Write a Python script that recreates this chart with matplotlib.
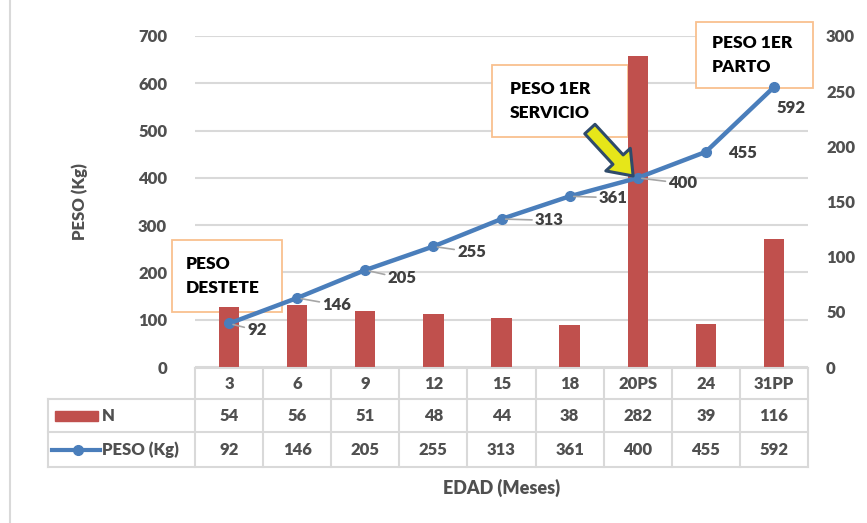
import matplotlib
matplotlib.use("Agg")
import matplotlib.pyplot as plt
import numpy as np
from matplotlib.patches import Rectangle, FancyArrowPatch, ArrowStyle
from matplotlib.lines import Line2D

plt.rcParams['font.family'] = ['Lato', 'DejaVu Sans']
plt.rcParams['font.weight'] = 'heavy'
plt.rcParams['axes.labelweight'] = 'heavy'

# data
edad = ["3", "6", "9", "12", "15", "18", "20PS", "24", "31PP"]
n_animales = [54, 56, 51, 48, 44, 38, 282, 39, 116]
peso = [92, 146, 205, 255, 313, 361, 400, 455, 592]
left_ticks = [0, 100, 200, 300, 400, 500, 600, 700]
right_ticks = [0, 50, 100, 150, 200, 250, 300]

W, H = 867, 523
BAR = '#c0504d'
LINE = '#4a7ebb'
GRID = '#d9d9d9'
TXT = '#505050'
FS = 12


def fx(x):
    return x / W


def fy(y):
    return 1 - y / H


fig = plt.figure(figsize=(W / 100, H / 100), dpi=100)
fig.add_artist(Line2D([fx(10), fx(10)], [0, 1], color=GRID, lw=1.5))

# main axes (line on top) and twin axes (bars)
ax = fig.add_axes([fx(195), fy(367), (808 - 195) / W, (367 - 36) / H])
ax2 = ax.twinx()
ax.set_zorder(ax2.get_zorder() + 1)
ax.patch.set_visible(False)

x = np.arange(len(edad))
ax2.bar(x, n_animales, width=0.3, color=BAR, zorder=2)
ax2.set_ylim(0, 300)
ax2.set_yticks(right_ticks)
ax.set_ylim(0, 700)
ax.set_yticks(left_ticks)
ax.set_xlim(-0.5, len(edad) - 0.5)
ax.set_xticks([])
ax2.set_xticks([])

# gridlines behind the bars
for v in left_ticks:
    ax2.axhline(v * 300 / 700, color=GRID, lw=1.5, zorder=0)

ax.plot(x, peso, color=LINE, lw=3.2, marker='o', ms=7, zorder=3)

for a in (ax, ax2):
    for s in a.spines.values():
        s.set_visible(False)
    a.tick_params(length=0, labelsize=FS, labelcolor=TXT, pad=20)
ax2.tick_params(pad=13)

# data labels
offsets = [(13, -5), (18, -5), (16, -6), (17, -4), (24, -1), (21, -1), (22, -4), (16, -1), (2, -15)]
leaders = [True, True, True, True, True, True, True, False, False]
for i, (v, off, ld) in enumerate(zip(peso, offsets, leaders)):
    ax.annotate(str(v), (x[i], v), xytext=off, textcoords='offset points',
                ha='left', va='center', fontsize=FS, color='#404040',
                arrowprops=dict(arrowstyle='-', color='#a6a6a6', lw=1.2,
                                shrinkA=0, shrinkB=3) if ld else None,
                zorder=4)

ax.set_ylabel("PESO (Kg)", fontsize=FS, color=TXT, labelpad=36)

# call-out boxes (above the grid, below bars and line)
boxes = [(172, 240, 282, 312, "PESO\nDESTETE", 186, 'left'),
         (492, 65, 628, 137, "PESO 1ER\nSERVICIO", 550, 'center'),
         (696, 22, 813, 88, "PESO 1ER\nPARTO", 712, 'left')]
for x0, y0, x1, y1, txt, tx, ha in boxes:
    ax2.add_patch(Rectangle((fx(x0), fy(y1)), (x1 - x0) / W, (y1 - y0) / H,
                            transform=fig.transFigure, fc='white', ec='#f9c08f', lw=1.3,
                            zorder=1, clip_on=False))
    ax2.text(fx(tx), fy((y0 + y1) / 2), txt, transform=fig.transFigure, ha=ha, va='center',
             fontsize=12.5, color='black', linespacing=1.6, zorder=3, clip_on=False)

arrow = FancyArrowPatch((fx(588), fy(127)), (fx(635), fy(178)), transform=fig.transFigure,
                        arrowstyle=ArrowStyle.Simple(head_length=16, head_width=24, tail_width=10),
                        fc='#e6e619', ec='#2f4b6b', lw=2.2, zorder=6)
fig.add_artist(arrow)

# data table under the chart
px_unit = (808 - 195) / len(edad)
tab = fig.add_axes([fx(48), fy(467), (808 - 48) / W, (467 - 367) / H])
lx = -0.5 - (195 - 48) / px_unit
rx = len(edad) - 0.5
tab.set_xlim(lx, rx)
tab.set_ylim(467, 367)
tab.axis('off')
gk = dict(color=GRID, lw=1.5, clip_on=False)
tab.plot([-0.5, rx], [368, 368], **gk)
for yy in (399, 432, 467):
    tab.plot([lx, rx], [yy, yy], **gk)
tab.plot([lx, lx], [399, 467], **gk)
for k in range(len(edad) + 1):
    tab.plot([k - 0.5, k - 0.5], [368, 467], **gk)

for i in range(len(edad)):
    tab.text(i, 384, edad[i], ha='center', va='center', fontsize=FS, color=TXT)
    tab.text(i, 416, str(n_animales[i]), ha='center', va='center', fontsize=FS, color=TXT)
    tab.text(i, 450, str(peso[i]), ha='center', va='center', fontsize=FS, color=TXT)


def tx_(p):
    return lx + (p - 48) / px_unit


tab.add_patch(Rectangle((tx_(55), 421), (98 - 55) / px_unit, -10, color=BAR, clip_on=False))
tab.text(tx_(102), 416, "N", ha='left', va='center', fontsize=FS, color=TXT)
tab.plot([tx_(52), tx_(100)], [450, 450], color=LINE, lw=3, clip_on=False)
tab.plot([tx_(78)], [450], marker='o', ms=7, color=LINE, clip_on=False)
tab.text(tx_(102), 450, "PESO (Kg)", ha='left', va='center', fontsize=FS, color=TXT)

fig.text(fx(502), fy(488), "EDAD (Meses)", ha='center', va='center', fontsize=13, color=TXT)

fig.savefig("out.png", dpi=100)
